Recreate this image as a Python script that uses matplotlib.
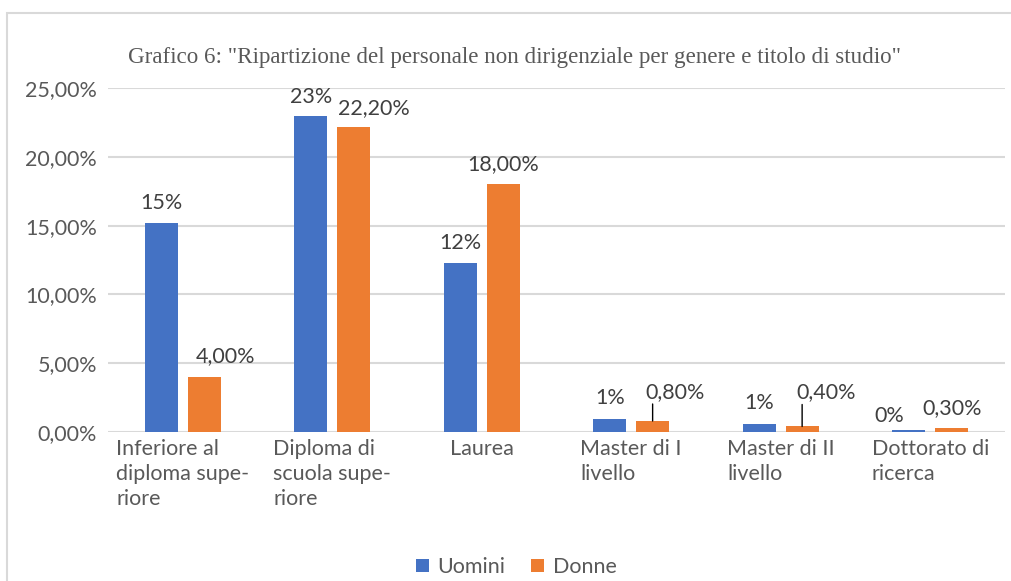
import matplotlib
matplotlib.use("Agg")
import matplotlib.pyplot as plt
from matplotlib.patches import Rectangle
from matplotlib.ticker import FuncFormatter
import numpy as np

# dati (percentuali)
categorie = ["Inferiore al\ndiploma supe-\nriore", "Diploma di\nscuola supe-\nriore", "Laurea",
             "Master di I\nlivello", "Master di II\nlivello", "Dottorato di\nricerca"]
uomini = [15.2, 23.0, 12.3, 0.95, 0.6, 0.15]
donne = [4.0, 22.2, 18.0, 0.8, 0.4, 0.3]
etichette_uomini = ["15%", "23%", "12%", "1%", "1%", "0%"]
etichette_donne = ["4,00%", "22,20%", "18,00%", "0,80%", "0,40%", "0,30%"]
titolo = 'Grafico 6: "Ripartizione del personale non dirigenziale per genere e titolo di studio"'

BLU = "#4472C4"
ARANCIO = "#ED7D31"
GRIGIO = "#595959"
GRIGLIA = "#D9D9D9"
FS = 15.5

plt.rcParams['font.family'] = ['Lato', 'DejaVu Sans']

W, H = 1011, 581
fig = plt.figure(figsize=(W / 100, H / 100), dpi=100)
ax = fig.add_axes([108 / W, 1 - 432 / H, (1005 - 108) / W, (432 - 88) / H])

x = np.arange(len(categorie))
w = 0.22
off = 0.143
ax.bar(x - off, uomini, w, color=BLU, label="Uomini", zorder=3)
ax.bar(x + off, donne, w, color=ARANCIO, label="Donne", zorder=3)

ax.set_xlim(-0.5, len(categorie) - 0.5)
ax.set_ylim(0, 25)
ax.set_yticks(np.arange(0, 26, 5))
ax.yaxis.set_major_formatter(FuncFormatter(lambda v, p: f"{v:.2f}".replace(".", ",") + "%"))
ax.set_xticks(x)
ax.set_xticklabels(categorie, ha="center", multialignment="left", va="top", linespacing=1.3)
ax.tick_params(length=0, labelsize=FS, labelcolor=GRIGIO)
ax.tick_params(axis="y", pad=8)
ax.tick_params(axis="x", pad=5)
ax.grid(axis="y", color=GRIGLIA, linewidth=1.5, zorder=0)
for s in ax.spines.values():
    s.set_visible(False)

# spostamenti delle etichette (px): dx, dy
sp_u = [(0, 20), (0, 19), (0, 20), (0, 21), (0, 21), (-20, 14)]
sp_d = [(21, 21), (20, 18), (0, 20), (22, 29), (24, 34), (0, 20)]
linee_d = [False, False, False, True, True, False]

def pt(px):
    return px * 72 / 100

for i in range(len(categorie)):
    dx, dy = sp_u[i]
    ax.annotate(etichette_uomini[i], (x[i] - off, uomini[i]), xytext=(pt(dx), pt(dy)),
                textcoords="offset points", ha="center", va="center", fontsize=FS, color="#404040")
    dx, dy = sp_d[i]
    ax.annotate(etichette_donne[i], (x[i] + off, donne[i]), xytext=(pt(dx), pt(dy)),
                textcoords="offset points", ha="center", va="center", fontsize=FS, color="#404040")
    if linee_d[i]:
        ax.annotate("", (x[i] + off, donne[i]), xytext=(0, pt(dy - 12)), textcoords="offset points",
                    arrowprops=dict(arrowstyle="-", color="black", lw=1, shrinkA=0, shrinkB=0))

fig.text(515 / W, 1 - 58 / H, titolo, ha="center", va="center", fontsize=16.6,
         family="Liberation Serif", color=GRIGIO)

fig.legend(loc="center", bbox_to_anchor=(516 / W, 1 - 567 / H), ncol=2, frameon=False,
           fontsize=FS, labelcolor=GRIGIO, handlelength=0.6, handleheight=0.6,
           handletextpad=0.4, columnspacing=1.2)

fig.add_artist(Rectangle((7 / W, -0.1), 1.2, (H - 13) / H + 0.1, transform=fig.transFigure,
                         fill=False, edgecolor=GRIGLIA, linewidth=1.5))

fig.savefig("out.png", dpi=100)
